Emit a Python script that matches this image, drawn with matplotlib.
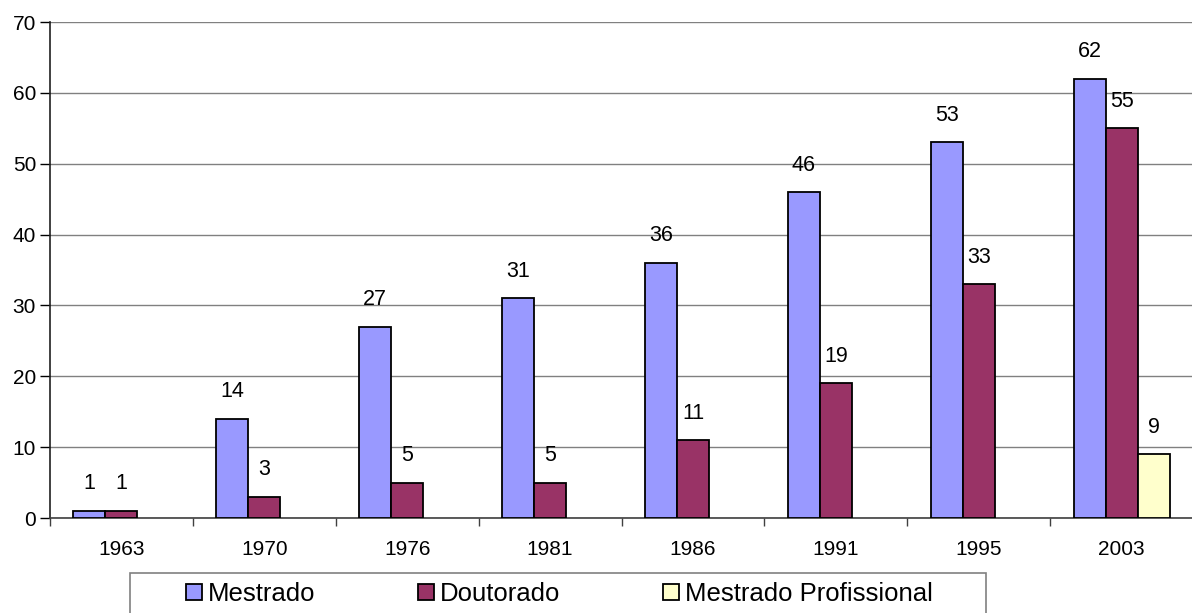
import numpy as np
import matplotlib
matplotlib.use("Agg")
import matplotlib.pyplot as plt
from matplotlib.patches import Rectangle

plt.rcParams['font.family'] = ['Liberation Sans', 'DejaVu Sans']

# data
anos = ['1963', '1970', '1976', '1981', '1986', '1991', '1995', '2003']
mestrado = [1, 14, 27, 31, 36, 46, 53, 62]
doutorado = [1, 3, 5, 5, 11, 19, 33, 55]
mestrado_prof = [None, None, None, None, None, None, None, 9]

series = [
    ('Mestrado', mestrado, '#9999FF'),
    ('Doutorado', doutorado, '#993366'),
    ('Mestrado Profissional', mestrado_prof, '#FFFFCC'),
]

W, H = 1192, 613
fig = plt.figure(figsize=(W / 100, H / 100), dpi=100)
ax = fig.add_axes([50 / W, 1 - 518 / H, 1143 / W, 496 / H])

x = np.arange(len(anos))
w = 0.224
handles = []
for k, (name, vals, color) in enumerate(series):
    pos = x + (k - 1) * w
    xs = [p for p, v in zip(pos, vals) if v is not None]
    ys = [v for v in vals if v is not None]
    b = ax.bar(xs, ys, width=w, color=color, edgecolor='black', linewidth=1.3,
               zorder=3, label=name)
    handles.append(b)
    for xi, yi in zip(xs, ys):
        ax.annotate(str(yi), (xi, yi), xytext=(0, 27), textcoords='offset pixels',
                    ha='center', va='center', fontsize=15.5, zorder=4)

ax.set_xlim(-0.5, len(anos) - 0.5)
ax.set_ylim(0, 70)
ax.set_yticks(range(0, 71, 10))
ax.yaxis.grid(True, color='#808080', linewidth=1.0)
ax.set_axisbelow(True)

ax.set_xticks(x)
ax.set_xticklabels(anos)
ax.set_xticks(np.arange(-0.5, len(anos), 1.0), minor=True)
ax.tick_params(axis='x', which='major', length=0, pad=16, labelsize=15)
ax.tick_params(axis='x', which='minor', length=6, width=1.0, color='#404040', direction='out')
ax.tick_params(axis='y', length=7, width=1.0, pad=3, labelsize=15, direction='out')

for s in ['top', 'right']:
    ax.spines[s].set_visible(False)
ax.spines['left'].set_color('#202020')
ax.spines['bottom'].set_color('#404040')
ax.spines['left'].set_linewidth(1.2)
ax.spines['bottom'].set_linewidth(1.2)

# legend box (runs off the bottom like the original)
fig.patches.append(Rectangle((130 / W, -0.05), (986 - 130) / W, 0.05 + (613 - 573) / H,
                             transform=fig.transFigure, fill=False,
                             edgecolor='#808080', linewidth=1.2))
fig.legend(handles=handles, loc='center left', bbox_to_anchor=(186 / W, 1 - 594 / H),
           ncol=3, frameon=False, fontsize=18.5, handlelength=0.62, handleheight=0.62,
           handletextpad=0.23, columnspacing=4.0, borderaxespad=0, borderpad=0)

fig.savefig('out.png', dpi=100)
